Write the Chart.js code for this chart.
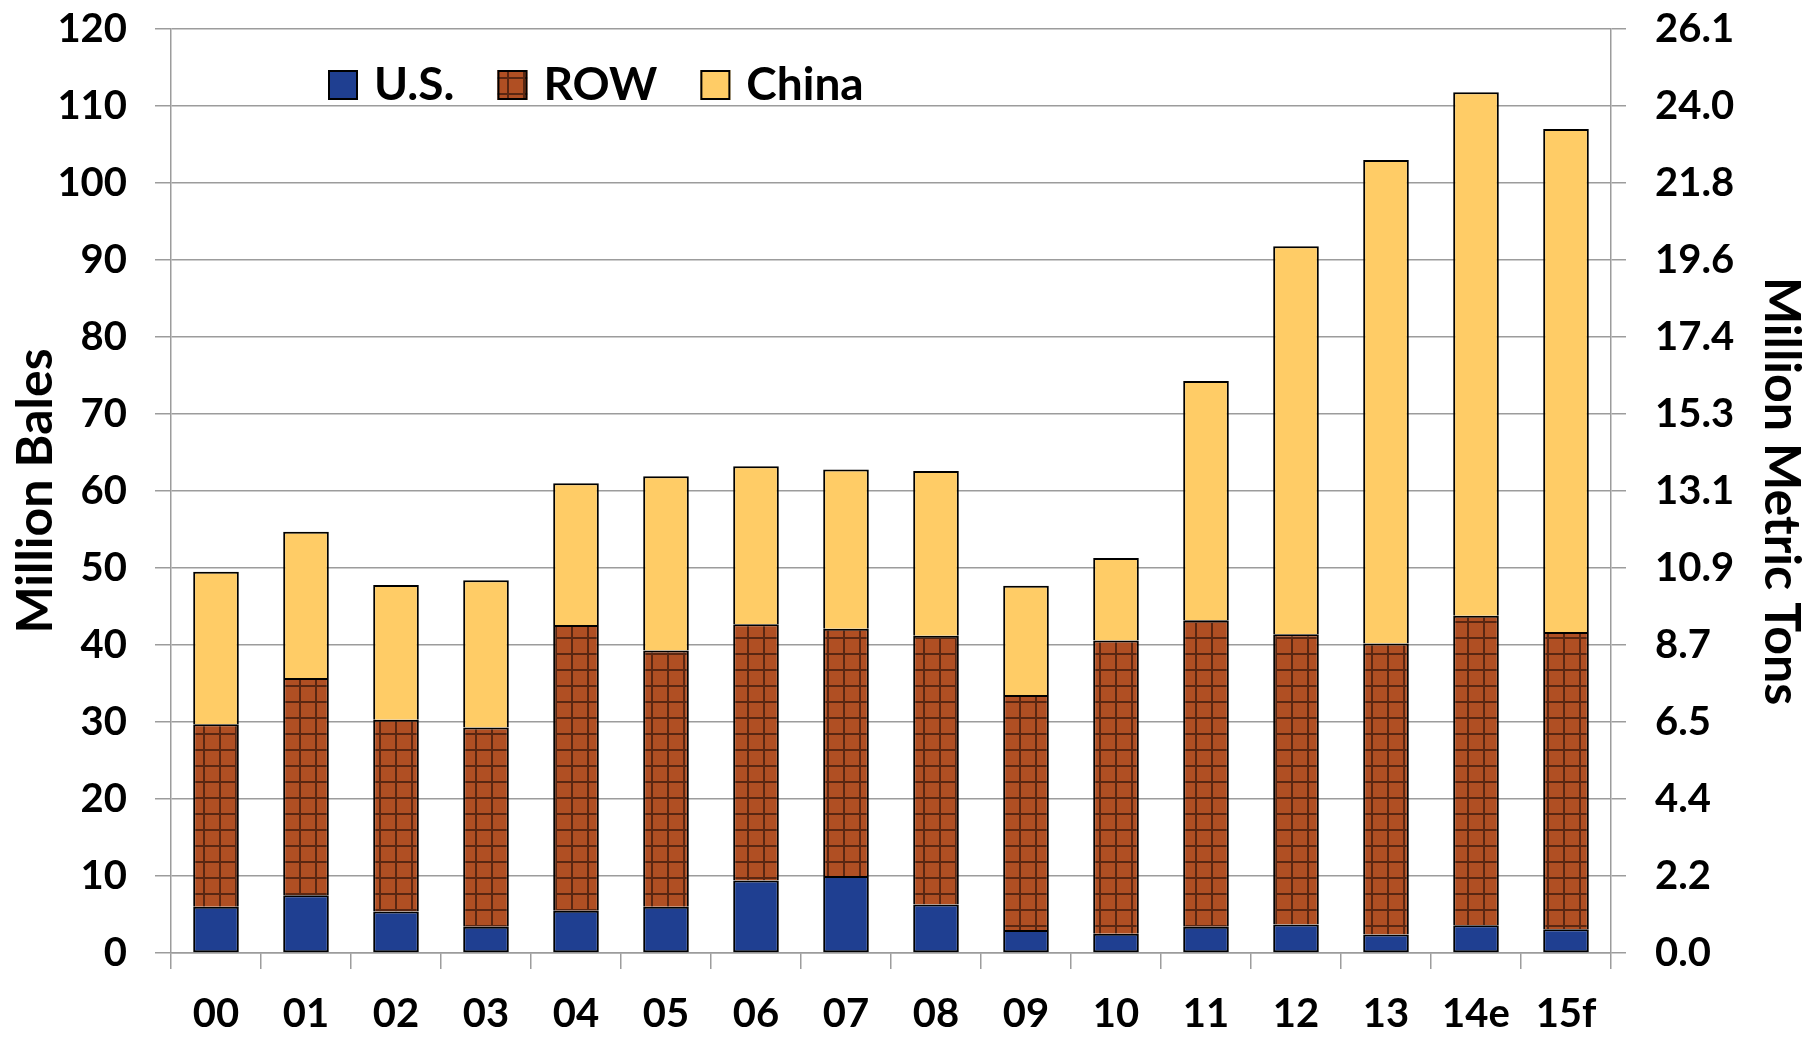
<!DOCTYPE html>
<html>
<head>
<meta charset="utf-8">
<title>Cotton stocks: U.S., ROW and China</title>
<script src="https://cdn.jsdelivr.net/npm/chart.js@4"></script>
<style>
  html, body { margin: 0; padding: 0; background: #ffffff; }
  #wrap { width: 1806px; height: 1038px; position: relative; }
  canvas { display: block; }
</style>
</head>
<body>
<div id="wrap"><canvas id="chart" width="1806" height="1038"></canvas></div>
<script>
// Marketing years (00 = 2000/01 ... 14e estimate, 15f forecast)
const categories = ['00', '01', '02', '03', '04', '05', '06', '07', '08', '09', '10', '11', '12', '13', '14e', '15f'];

// Ending stocks, million bales, by region (stacked segments)
const usStocks    = [6.0, 7.5, 5.4, 3.4, 5.5, 6.0, 9.4, 10.0, 6.3, 3.0, 2.5, 3.4, 3.7, 2.4, 3.6, 3.1];
const rowStocks   = [23.7, 28.2, 24.9, 25.9, 37.1, 33.3, 33.3, 32.1, 34.9, 30.5, 38.1, 39.8, 37.7, 37.8, 40.2, 38.6];
const chinaStocks = [19.8, 19.0, 17.5, 19.1, 18.4, 22.6, 20.5, 20.7, 21.4, 14.2, 10.7, 31.1, 50.4, 62.8, 68.0, 65.3];

// Secondary axis tick labels (million metric tons)
const metricTonLabels = ['0.0', '2.2', '4.4', '6.5', '8.7', '10.9', '13.1', '15.3', '17.4', '19.6', '21.8', '24.0', '26.1'];

const FONT = 'Lato';
const GRID = '#9c9c9c';

// Brick-like crosshatch fill for the ROW series
function makeGridPattern() {
  const c = document.createElement('canvas');
  c.width = 16; c.height = 16;
  const g = c.getContext('2d');
  g.fillStyle = '#b04f23';
  g.fillRect(0, 0, 16, 16);
  g.fillStyle = '#5a2712';
  g.fillRect(11, 0, 2, 16);
  g.fillRect(0, 13, 16, 2);
  return g.createPattern(c, 'repeat');
}

// Legend drawn inside the plot area, top-left
const insideLegend = {
  id: 'insideLegend',
  afterDraw(chart) {
    const ctx = chart.ctx;
    const area = chart.chartArea;
    const box = 30;
    let x = area.left + 157;
    const baseY = area.top + 71;
    ctx.save();
    ctx.font = 'bold 46px ' + FONT;
    ctx.textBaseline = 'alphabetic';
    ctx.textAlign = 'left';
    chart.data.datasets.forEach(ds => {
      ctx.fillStyle = ds.backgroundColor;
      ctx.fillRect(x, baseY - 30, box, box);
      ctx.lineWidth = 2;
      ctx.strokeStyle = '#000000';
      ctx.strokeRect(x + 1, baseY - 29, box - 2, box - 2);
      ctx.fillStyle = '#000000';
      const tx = x + box + 16;
      ctx.fillText(ds.label, tx, baseY);
      x = tx + ctx.measureText(ds.label).width + 43;
    });
    ctx.restore();
  }
};

// Vertical axes: fixed width, and only half a label height reserved above/below
function fitVertical(width) {
  return function (scale) {
    scale.width = width;
    scale.paddingTop = 24;
    scale.paddingBottom = 24;
  };
}

function build() {
  const rowPattern = makeGridPattern();
  const tickFont = { family: FONT, size: 40, weight: 'bold' };
  const titleFont = { family: FONT, size: 50, weight: 'bold' };

  new Chart(document.getElementById('chart'), {
    type: 'bar',
    data: {
      labels: categories,
      datasets: [
        {
          label: 'U.S.',
          data: usStocks,
          backgroundColor: '#1f3f91',
          borderColor: '#000000',
          borderWidth: 2,
          borderSkipped: false
        },
        {
          label: 'ROW',
          data: rowStocks,
          backgroundColor: rowPattern,
          borderColor: '#000000',
          borderWidth: { top: 2, left: 2, right: 2, bottom: 0 },
          borderSkipped: false
        },
        {
          label: 'China',
          data: chinaStocks,
          backgroundColor: '#ffcc66',
          borderColor: '#000000',
          borderWidth: { top: 2, left: 2, right: 2, bottom: 0 },
          borderSkipped: false
        }
      ]
    },
    options: {
      responsive: false,
      animation: false,
      devicePixelRatio: 1,
      layout: { padding: { top: 29, left: 0, right: 0, bottom: 0 } },
      datasets: {
        bar: { categoryPercentage: 1.0, barPercentage: 0.507 }
      },
      plugins: {
        legend: { display: false },
        tooltip: { enabled: false },
        title: { display: false }
      },
      scales: {
        x: {
          stacked: true,
          grid: {
            offset: true,
            drawOnChartArea: false,
            drawTicks: true,
            tickLength: 16,
            color: GRID,
            lineWidth: 1.5
          },
          border: { display: true, color: GRID, width: 1.5 },
          ticks: {
            font: tickFont,
            color: '#000000',
            padding: 21,
            maxRotation: 0,
            autoSkip: false
          },
          afterFit(scale) { scale.height = 85; }
        },
        y: {
          stacked: true,
          position: 'left',
          min: 0,
          max: 120,
          grid: {
            color: GRID,
            lineWidth: 1.5,
            tickLength: 16
          },
          border: { display: true, color: GRID, width: 1.5 },
          ticks: {
            stepSize: 10,
            font: tickFont,
            color: '#000000',
            padding: 28
          },
          title: {
            display: true,
            text: 'Million Bales',
            font: titleFont,
            color: '#000000',
            padding: { top: 6, bottom: 0 }
          },
          afterFit: fitVertical(171)
        },
        y2: {
          position: 'right',
          min: 0,
          max: 120,
          grid: {
            drawOnChartArea: false,
            color: GRID,
            lineWidth: 1.5,
            tickLength: 15
          },
          border: { display: true, color: GRID, width: 1.5 },
          ticks: {
            stepSize: 10,
            font: tickFont,
            color: '#000000',
            padding: 29,
            callback: (value, index) => metricTonLabels[index]
          },
          title: {
            display: true,
            text: 'Million Metric Tons',
            font: { family: FONT, size: 50, weight: 'bold', lineHeight: 1.0 },
            color: '#000000',
            padding: { top: 0, bottom: 0 }
          },
          afterFit: fitVertical(195)
        }
      }
    },
    plugins: [insideLegend]
  });
}

if (document.fonts && document.fonts.load) {
  document.fonts.load('bold 40px Lato').then(build, build);
} else {
  build();
}
</script>
</body>
</html>
